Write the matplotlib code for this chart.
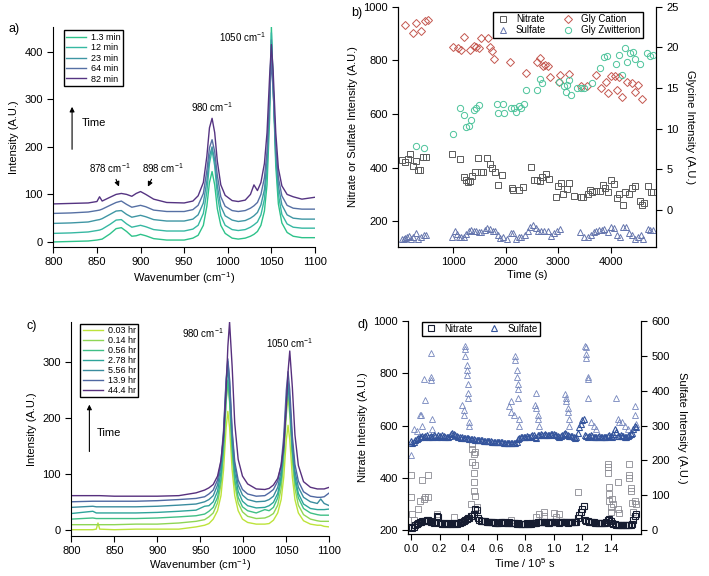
import numpy as np
import matplotlib
matplotlib.use("Agg")
from matplotlib import pyplot as plt

plt.rcParams["font.family"] = ["Liberation Sans", "DejaVu Sans"]
plt.rcParams["font.size"] = 8
plt.rcParams["mathtext.default"] = "regular"

# ---------------- panel a: spectra vs time (min) ----------------
wn_a = [800, 820, 840, 850, 853, 856, 865, 872, 878, 884, 890, 895, 900, 906, 915, 930,
        950, 960, 966, 972, 976, 979, 982, 985, 988, 992, 997, 1005, 1012, 1020, 1026, 1030,
        1034, 1038, 1042, 1045, 1048, 1050, 1052, 1055, 1058, 1062, 1068, 1075, 1085, 1100]
spec_a_1p3 = [0, 1, 2, 4, 5, 6, 17, 28, 30, 22, 12, 13, 16, 13, 7, 4,
              4, 8, 14, 35, 75, 125, 148, 120, 70, 35, 18, 8, 6, 8, 12, 16,
              22, 35, 65, 120, 260, 452, 330, 160, 80, 40, 20, 12, 9, 9]
spec_a_12 = [18, 19, 21, 24, 25, 27, 37, 46, 47, 38, 31, 33, 35, 32, 26, 23,
             23, 27, 35, 60, 105, 165, 193, 160, 100, 55, 35, 26, 24, 26, 31, 36,
             42, 57, 90, 150, 290, 440, 330, 175, 100, 58, 38, 31, 29, 29]
spec_a_23 = [39, 40, 42, 46, 47, 49, 58, 65, 66, 58, 52, 54, 56, 53, 47, 44,
             44, 48, 57, 82, 128, 180, 200, 172, 118, 75, 55, 46, 43, 45, 50, 55,
             62, 78, 110, 170, 300, 425, 330, 190, 118, 78, 57, 50, 48, 48]
spec_a_64 = [60, 61, 63, 66, 67, 69, 77, 83, 86, 79, 73, 75, 77, 74, 67, 64,
             64, 68, 77, 102, 150, 198, 215, 190, 140, 95, 75, 66, 64, 66, 71, 76,
             83, 100, 135, 190, 300, 383, 320, 200, 135, 97, 77, 71, 69, 69]
spec_a_82 = [80, 81, 82, 85, 95, 86, 94, 100, 102, 100, 96, 102, 106, 100, 90, 83,
             82, 86, 97, 125, 180, 240, 260, 230, 170, 120, 98, 87, 85, 88, 100, 120,
             108, 125, 165, 230, 350, 415, 360, 230, 155, 118, 100, 95, 90, 94]
labels_a = ["1.3 min", "12 min", "23 min", "64 min", "82 min"]
colors_a = ["#2ec28a", "#36b8a2", "#3f96a4", "#5670a4", "#553482"]

# ---------------- panel b: time series (s) ----------------
nit_b_t = [30, 90, 140, 190, 240, 290, 330, 380, 430, 490,
           990, 1140, 1200, 1240, 1280, 1330, 1370, 1420, 1480, 1530,
           1580, 1640, 1700, 1740, 1790, 1850, 1940, 2120, 2150, 2260,
           2330, 2490, 2540, 2600, 2650, 2700, 2760, 2830, 2950, 3000,
           3060, 3100, 3170, 3210, 3300, 3440, 3480, 3570, 3600, 3650,
           3720, 3790, 3850, 3900, 3950, 4000, 4060, 4120, 4160, 4240,
           4280, 4340, 4400, 4460, 4560, 4600, 4640, 4700, 4760, 4800]
nit_b_v = [430, 420, 432, 452, 405, 425, 390, 390, 441, 441,
           450, 432, 365, 355, 345, 350, 370, 382, 437, 382,
           382, 437, 415, 400, 382, 335, 372, 325, 318, 315,
           328, 402, 355, 355, 350, 365, 375, 358, 292, 330,
           342, 300, 322, 342, 295, 292, 292, 300, 318, 310,
           312, 312, 335, 325, 308, 352, 340, 288, 300, 260,
           308, 300, 325, 330, 275, 260, 268, 330, 310, 310]
sul_b_t = [30, 60, 90, 120, 160, 200, 240, 300, 340, 400,
           450, 490, 990, 1040, 1080, 1120, 1160, 1200, 1250, 1300,
           1350, 1390, 1440, 1490, 1540, 1600, 1650, 1700, 1760, 1800,
           1850, 1900, 1960, 2030, 2100, 2140, 2200, 2250, 2300, 2360,
           2420, 2470, 2520, 2570, 2620, 2680, 2730, 2800, 2860, 2920,
           2980, 3040, 3420, 3500, 3560, 3620, 3680, 3720, 3780, 3830,
           3880, 3940, 4000, 4060, 4110, 4170, 4230, 4290, 4350, 4400,
           4460, 4510, 4570, 4620, 4700, 4750, 4800]
sul_b_v = [135, 133, 138, 142, 145, 133, 140, 155, 133, 140,
           148, 148, 142, 165, 152, 142, 142, 142, 152, 165,
           168, 162, 162, 160, 160, 168, 175, 172, 165, 162,
           150, 138, 142, 133, 155, 155, 135, 140, 142, 148,
           165, 178, 185, 175, 165, 165, 165, 165, 145, 155,
           165, 170, 160, 142, 142, 148, 160, 165, 168, 168,
           170, 160, 178, 175, 148, 140, 178, 178, 155, 148,
           135, 140, 148, 135, 170, 168, 168]
cat_b_t = [92, 238, 302, 390, 473, 518, 1000, 1089, 1152, 1203,
           1330, 1394, 1444, 1489, 1533, 1660, 1698, 1743, 1787, 2092,
           2397, 2600, 2651, 2714, 2759, 2803, 2854, 3013, 3044, 3203,
           3425, 3552, 3711, 3819, 3901, 3946, 3997, 4073, 4124, 4156,
           4219, 4302, 4410, 4454, 4517, 4600]
cat_b_v = [22.7, 21.8, 23.0, 22.0, 23.3, 23.4, 20.0, 19.9, 19.7, 21.3,
           19.7, 20.2, 20.1, 19.9, 21.1, 21.1, 20.0, 19.5, 18.6, 18.2,
           16.9, 18.2, 18.7, 17.7, 17.8, 17.7, 16.3, 15.8, 16.6, 16.7,
           15.2, 15.2, 16.6, 15.0, 15.8, 14.4, 16.5, 16.5, 14.8, 16.3,
           13.9, 15.7, 15.6, 14.5, 15.4, 13.6]
zwi_b_t = [295, 441, 1000, 1140, 1203, 1248, 1298, 1343, 1394, 1444,
           1495, 1838, 1851, 1952, 1978, 2105, 2156, 2206, 2251, 2302,
           2346, 2397, 2600, 2651, 2695, 3013, 3108, 3140, 3171, 3203,
           3248, 3362, 3425, 3489, 3648, 3794, 3870, 3933, 4092, 4156,
           4219, 4263, 4314, 4365, 4429, 4454, 4556, 4695, 4746, 4810]
zwi_b_v = [7.9, 7.6, 9.4, 12.5, 11.7, 10.2, 10.3, 11.1, 12.3, 12.5,
           12.9, 13.0, 11.9, 13.0, 11.9, 12.6, 12.6, 12.0, 12.8, 12.5,
           13.1, 14.8, 14.8, 16.1, 15.6, 15.7, 15.2, 14.5, 15.4, 16.0,
           14.2, 15.0, 15.0, 15.0, 15.6, 17.5, 18.8, 18.9, 17.9, 19.1,
           16.6, 19.9, 18.2, 19.3, 19.4, 18.6, 18.0, 19.3, 18.9, 19.1]

# ---------------- panel c: spectra vs time (hr) ----------------
wn_c = [800, 825, 829, 831, 833, 850, 875, 900, 925, 945, 955, 960, 965, 970, 974,
        977, 980, 982, 984, 987, 990, 994, 999, 1005, 1015, 1025, 1030, 1035, 1040, 1044,
        1047, 1050, 1052, 1054, 1057, 1060, 1064, 1070, 1078, 1086, 1090, 1094, 1100]
spec_c = [
    [0, 0, 1, 12, 1, 0, 1, 1, 1, 5, 8, 11, 19, 34, 61,
     107, 183, 212, 183, 107, 61, 34, 19, 13, 10, 10, 11, 17, 30, 54,
     94, 161, 187, 161, 94, 54, 30, 16, 10, 8, 8, 6, 5],
    [9, 9, 9, 9, 9, 9, 10, 10, 12, 15, 18, 23, 30, 48, 81,
     138, 229, 264, 229, 138, 81, 48, 32, 24, 20, 21, 24, 29, 44, 74,
     124, 206, 238, 206, 124, 74, 44, 27, 19, 16, 15, 15, 15],
    [19, 21, 20, 20, 20, 20, 20, 21, 23, 25, 28, 33, 40, 58, 90,
     145, 234, 268, 234, 145, 90, 58, 41, 34, 30, 36, 34, 40, 57, 88,
     141, 227, 261, 227, 141, 88, 57, 38, 30, 27, 26, 26, 26],
    [29, 33, 30, 30, 30, 30, 30, 31, 33, 35, 42, 43, 50, 69, 103,
     160, 254, 291, 254, 160, 103, 69, 51, 43, 39, 40, 43, 49, 65, 95,
     144, 226, 258, 226, 144, 95, 65, 46, 38, 36, 36, 36, 37],
    [40, 42, 41, 41, 41, 41, 41, 42, 44, 46, 50, 54, 61, 80, 114,
     171, 265, 301, 265, 171, 114, 80, 62, 54, 50, 51, 54, 60, 76, 105,
     154, 234, 265, 234, 154, 105, 76, 58, 50, 47, 55, 47, 43],
    [50, 51, 51, 51, 51, 51, 51, 52, 54, 56, 59, 64, 71, 89, 122,
     178, 270, 306, 270, 178, 122, 89, 72, 64, 60, 61, 66, 72, 87, 117,
     167, 250, 283, 250, 167, 117, 87, 68, 60, 58, 58, 59, 66],
    [61, 61, 61, 61, 61, 60, 60, 60, 61, 66, 71, 75, 81, 96, 124,
     167, 250, 328, 372, 292, 191, 126, 96, 82, 73, 72, 74, 80, 92, 115,
     150, 220, 283, 320, 255, 170, 115, 86, 76, 73, 73, 73, 76],
]
labels_c = ["0.03 hr", "0.14 hr", "0.56 hr", "2.78 hr", "5.56 hr", "13.9 hr", "44.4 hr"]
colors_c = ["#bde33a", "#8fd655", "#3fbf86", "#2ea49a", "#3a8c9e", "#4f68a2", "#57307e"]

# ---------------- panel d: long time series (1e5 s) ----------------
t_d = np.arange(159) / 100.0
nit_d = [212, 208, 210, 218, 225, 228, 230, 232, 233, 235,
         236, 238, 237, 235, 232, 230, 228, 232, 255, 250,
         228, 226, 225, 224, 226, 228, 225, 224, 225, 226,
         228, 225, 222, 226, 228, 230, 232, 235, 238, 242,
         245, 248, 252, 255, 262, 282, 275, 245, 238, 236,
         235, 234, 233, 232, 231, 230, 230, 229, 229, 228,
         228, 227, 228, 229, 230, 229, 228, 227, 228, 229,
         228, 227, 226, 226, 225, 226, 225, 225, 224, 225,
         225, 226, 225, 224, 225, 226, 227, 226, 228, 229,
         230, 229, 230, 231, 230, 229, 228, 228, 229, 230,
         232, 231, 230, 229, 228, 229, 230, 231, 232, 230,
         228, 229, 230, 231, 232, 230, 232, 245, 258, 268,
         280, 292, 240, 236, 234, 232, 231, 230, 229, 228,
         228, 227, 228, 227, 226, 227, 228, 230, 238, 243,
         235, 228, 225, 222, 221, 220, 220, 219, 220, 219,
         218, 218, 219, 218, 220, 225, 240, 255, 262]
sul_d = [255, 250, 252, 260, 262, 265, 266, 268, 270, 268,
         270, 272, 268, 266, 270, 268, 272, 270, 268, 272,
         270, 268, 272, 270, 268, 266, 268, 270, 275, 278,
         275, 272, 270, 268, 266, 265, 266, 265, 264, 263,
         263, 262, 262, 261, 261, 260, 260, 259, 259, 258,
         258, 257, 257, 256, 256, 255, 255, 254, 254, 253,
         253, 253, 252, 252, 252, 251, 251, 251, 250, 250,
         250, 251, 250, 251, 252, 262, 264, 266, 266, 268,
         268, 270, 268, 266, 270, 272, 272, 268, 265, 272,
         274, 275, 273, 272, 275, 274, 273, 274, 275, 276,
         275, 273, 272, 270, 268, 270, 272, 275, 278, 275,
         272, 270, 270, 270, 268, 265, 266, 280, 295, 305,
         315, 320, 272, 270, 268, 270, 272, 270, 268, 268,
         268, 268, 269, 268, 268, 268, 268, 268, 270, 272,
         270, 268, 275, 290, 282, 270, 270, 272, 270, 270,
         268, 268, 270, 272, 275, 280, 290, 300, 295]
nit_out_t = [0.00, 0.00, 0.01, 0.02, 0.05, 0.06, 0.08, 0.09, 0.10, 0.12,
             0.12, 0.18, 0.30, 0.42, 0.43, 0.43, 0.43, 0.44, 0.44, 0.44,
             0.44, 0.45, 0.45, 0.45, 0.46, 0.70, 0.88, 0.90, 0.93, 0.93,
             1.00, 1.02, 1.04, 1.17, 1.19, 1.38, 1.38, 1.38, 1.39, 1.39,
             1.39, 1.40, 1.40, 1.41, 1.42, 1.45, 1.45, 1.46, 1.53, 1.53,
             1.53, 1.54, 1.54, 1.55, 1.56, 1.57, 1.58]
nit_out_v = [410, 325, 260, 240, 280, 310, 390, 320, 325, 410,
             325, 260, 250, 300, 530, 510, 460, 490, 420, 385,
             350, 330, 450, 500, 290, 240, 250, 260, 270, 255,
             265, 250, 260, 345, 270, 455, 440, 420, 365, 340,
             310, 290, 270, 320, 300, 385, 280, 265, 455, 410,
             400, 360, 350, 305, 270, 310, 300]
sul_out_t = [0.00, 0.02, 0.04, 0.06, 0.07, 0.08, 0.09, 0.10, 0.14, 0.14,
             0.14, 0.15, 0.15, 0.36, 0.37, 0.37, 0.38, 0.38, 0.38, 0.39,
             0.39, 0.39, 0.40, 0.40, 0.40, 0.41, 0.41, 0.69, 0.70, 0.70,
             0.72, 0.73, 0.73, 0.74, 0.74, 0.75, 0.75, 0.75, 0.76, 0.76,
             0.87, 0.88, 0.88, 0.89, 0.89, 0.90, 1.08, 1.09, 1.09, 1.10,
             1.10, 1.11, 1.11, 1.22, 1.23, 1.23, 1.23, 1.24, 1.24, 1.24,
             1.26, 1.28, 1.30, 1.44, 1.45, 1.46, 1.48, 1.50, 1.52, 1.57,
             1.57, 1.58]
sul_out_v = [215, 290, 285, 330, 330, 300, 435, 375, 510, 440,
             430, 320, 290, 360, 345, 330, 530, 520, 500, 475,
             460, 445, 420, 395, 380, 310, 300, 355, 340, 370,
             330, 500, 490, 460, 440, 420, 405, 380, 320, 300,
             360, 395, 350, 330, 320, 300, 390, 380, 370, 350,
             340, 320, 300, 530, 525, 505, 495, 440, 435, 380,
             310, 300, 290, 380, 320, 310, 310, 300, 290, 355,
             330, 305]


def style_axes(ax, right=False):
    ax.spines["top"].set_visible(False)
    if not right:
        ax.spines["right"].set_visible(False)
    ax.tick_params(direction="out", length=4, width=0.8, labelsize=8)


fig = plt.figure(figsize=(7.09, 5.76), dpi=100)

# ---- a ----
ax_a = fig.add_axes([0.0752, 0.5717, 0.3691, 0.3814])
spectra_a = [spec_a_1p3, spec_a_12, spec_a_23, spec_a_64, spec_a_82]
for y, lab, c in zip(spectra_a, labels_a, colors_a):
    ax_a.plot(wn_a, y, color=c, lw=1.0, label=lab)
ax_a.set_xlim(800, 1100)
ax_a.set_ylim(-10, 452)
ax_a.set_yticks([0, 100, 200, 300, 400])
ax_a.set_xlabel("Wavenumber (cm$^{-1}$)", labelpad=2)
ax_a.set_ylabel("Intensity (A.U.)")
style_axes(ax_a)
ax_a.legend(loc="upper left", bbox_to_anchor=(0.022, 1.005), fontsize=6.5, frameon=True,
            fancybox=False, edgecolor="black", framealpha=1, handlelength=2.2,
            borderpad=0.3, labelspacing=0.15, handletextpad=0.5)
ax_a.text(1017, 430, "1050 cm$^{-1}$", fontsize=7, ha="center", va="center")
ax_a.text(982, 283, "980 cm$^{-1}$", fontsize=7, ha="center", va="center")
ax_a.text(865, 155, "878 cm$^{-1}$", fontsize=7, ha="center", va="center")
ax_a.text(925, 155, "898 cm$^{-1}$", fontsize=7, ha="center", va="center")
ax_a.annotate("", xy=(876.5, 111), xytext=(870.7, 137),
              arrowprops=dict(arrowstyle="-|>", color="black", lw=0.8, mutation_scale=7))
ax_a.annotate("", xy=(907, 111), xytext=(914, 137),
              arrowprops=dict(arrowstyle="-|>", color="black", lw=0.8, mutation_scale=7))
ax_a.annotate("", xy=(821.5, 290), xytext=(821.5, 189),
              arrowprops=dict(arrowstyle="-|>", color="black", lw=0.8, mutation_scale=7))
ax_a.text(833, 250, "Time", fontsize=8, ha="left", va="center")
fig.text(0.012, 0.945, "a)", fontsize=9)

# ---- b ----
ax_b = fig.add_axes([0.5618, 0.5717, 0.3634, 0.4167])
ax_b2 = ax_b.twinx()
h1, = ax_b.plot(nit_b_t, nit_b_v, ls="none", marker="s", ms=4.5, mfc="none", mec="#5a5a5a",
                mew=0.7, label="Nitrate")
h2, = ax_b.plot(sul_b_t, sul_b_v, ls="none", marker="^", ms=4.5, mfc="none", mec="#6575ad",
                mew=0.7, label="Sulfate")
h3, = ax_b2.plot(cat_b_t, cat_b_v, ls="none", marker="D", ms=4.2, mfc="none", mec="#c4574f",
                 mew=0.7, label="Gly Cation")
h4, = ax_b2.plot(zwi_b_t, zwi_b_v, ls="none", marker="o", ms=4.5, mfc="none", mec="#4cc39a",
                 mew=0.7, label="Gly Zwitterion")
ax_b.set_xlim(-40, 4860)
ax_b.set_ylim(105, 1000)
ax_b2.set_ylim(-4.5, 25)
ax_b.set_xticks([1000, 2000, 3000, 4000])
ax_b.set_yticks([200, 400, 600, 800, 1000])
ax_b2.set_yticks([0, 5, 10, 15, 20, 25])
ax_b.set_xlabel("Time (s)", labelpad=2)
ax_b.set_ylabel("Nitrate or Sulfate Intensity (A.U.)")
ax_b2.set_ylabel("Glycine Intensity (A.U.)", rotation=270, labelpad=12)
for a in (ax_b, ax_b2):
    a.spines["top"].set_visible(False)
    a.tick_params(direction="out", length=4, width=0.8, labelsize=8)
ax_b.legend(handles=[h1, h2, h3, h4], ncol=2, loc="upper right", bbox_to_anchor=(0.97, 1.0),
            fontsize=7, frameon=True, fancybox=False, edgecolor="black", framealpha=1,
            borderpad=0.3, labelspacing=0.1, handletextpad=0.6, columnspacing=1.5,
            handlelength=1.5)
fig.text(0.495, 0.972, "b)", fontsize=9)

# ---- c ----
ax_c = fig.add_axes([0.1006, 0.0700, 0.3639, 0.3715])
for y, lab, c in zip(spec_c, labels_c, colors_c):
    ax_c.plot(wn_c, y, color=c, lw=1.0, label=lab)
ax_c.set_xlim(800, 1100)
ax_c.set_ylim(-10.7, 372.5)
ax_c.set_yticks([0, 100, 200, 300])
ax_c.set_xlabel("Wavenumber (cm$^{-1}$)", labelpad=1)
ax_c.set_ylabel("Intensity (A.U.)")
style_axes(ax_c)
ax_c.legend(loc="upper left", bbox_to_anchor=(0.018, 1.012), fontsize=6.5, frameon=True,
            fancybox=False, edgecolor="black", framealpha=1, handlelength=2.2,
            borderpad=0.3, labelspacing=0.1, handletextpad=0.5)
ax_c.text(953, 352, "980 cm$^{-1}$", fontsize=7, ha="center", va="center")
ax_c.text(1054, 334, "1050 cm$^{-1}$", fontsize=7, ha="center", va="center")
ax_c.annotate("", xy=(821, 229), xytext=(821, 135),
              arrowprops=dict(arrowstyle="-|>", color="black", lw=0.8, mutation_scale=7))
ax_c.text(830, 174, "Time", fontsize=8, ha="left", va="center")
fig.text(0.038, 0.428, "c)", fontsize=9)

# ---- d ----
ax_d = fig.add_axes([0.5759, 0.0730, 0.3282, 0.3692])
ax_d2 = ax_d.twinx()
ax_d.plot(nit_out_t, nit_out_v, ls="none", marker="s", ms=4, mfc="none", mec="#8a8a92", mew=0.6)
g1, = ax_d.plot(t_d, nit_d, ls="none", marker="s", ms=4, mfc="none", mec="#161c30", mew=0.8,
                label="Nitrate")
ax_d2.plot(sul_out_t, sul_out_v, ls="none", marker="^", ms=4, mfc="none", mec="#7586bd", mew=0.6)
g2, = ax_d2.plot(t_d, sul_d, ls="none", marker="^", ms=4, mfc="none", mec="#34549c", mew=0.8,
                 label="Sulfate")
ax_d.set_xlim(-0.019, 1.613)
ax_d.set_ylim(185, 1000)
ax_d2.set_ylim(-11.5, 600)
ax_d.set_xticks([0.0, 0.2, 0.4, 0.6, 0.8, 1.0, 1.2, 1.4])
ax_d.set_xticklabels(["0.0", "0.2", "0.4", "0.6", "0.8", "1.0", "1.2", "1.4"])
ax_d.set_yticks([200, 400, 600, 800, 1000])
ax_d2.set_yticks([0, 100, 200, 300, 400, 500, 600])
ax_d.set_xlabel("Time / 10$^{5}$ s", labelpad=1)
ax_d.set_ylabel("Nitrate Intensity (A.U.)")
ax_d2.set_ylabel("Sulfate Intensity (A.U.)", rotation=270, labelpad=12)
for a in (ax_d, ax_d2):
    a.spines["top"].set_visible(False)
    a.tick_params(direction="out", length=4, width=0.8, labelsize=8)
ax_d.legend(handles=[g1, g2], ncol=2, loc="upper left", bbox_to_anchor=(0.036, 1.02),
            fontsize=7, frameon=True, fancybox=False, edgecolor="black", framealpha=1,
            borderpad=0.2, handletextpad=0.6, columnspacing=1.5, handlelength=1.5)
fig.text(0.504, 0.43, "d)", fontsize=9)

fig.savefig("out.png", dpi=100)
